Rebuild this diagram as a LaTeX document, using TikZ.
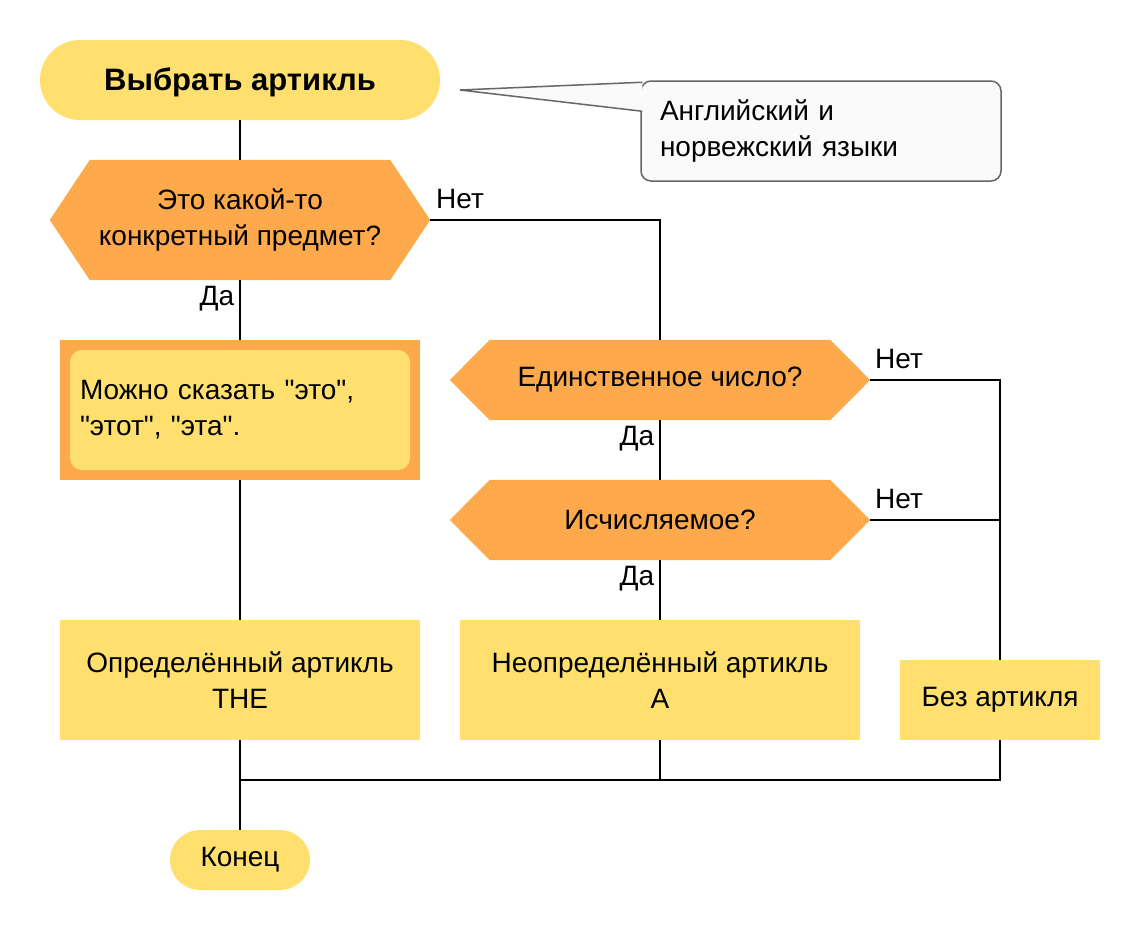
\documentclass[tikz,border=0pt]{standalone}
\usepackage{fontspec}
\setmainfont{Liberation Sans}
\newfontfamily\plainfont{Liberation Sans}
\definecolor{ylw}{HTML}{FFE06E}
\definecolor{org}{HTML}{FFA94D}
\definecolor{callfill}{HTML}{FAFAFA}
\definecolor{callline}{HTML}{666666}
\pgfdeclarelayer{background}
\pgfsetlayers{background,main}
\begin{document}
\begin{tikzpicture}[x=1pt,y=-1pt,
  font=\fontsize{28}{36}\selectfont,
  conn/.style={line width=2pt, black},
  term/.style={fill=ylw, inner sep=0pt, align=center},
  box/.style={fill=ylw, inner sep=0pt, align=center},
  hexn/.style={inner sep=0pt, align=center},
  lbl/.style={inner sep=0pt},
  hexfill/.style={fill=org}]
\useasboundingbox (0,0) rectangle (1140,940);

% nodes
\node[term, minimum width=400pt, minimum height=80pt, rounded corners=40pt, font=\fontsize{31}{36}\selectfont\bfseries] (start) at (240,80) {\raisebox{-2.5pt}[\height][\depth]{Выбрать артикль}};
\node[hexn, minimum width=380pt, minimum height=120pt] (q1) at (240,220) {Это какой-то\\конкретный предмет?};
\node[fill=org, minimum width=360pt, minimum height=140pt, inner sep=0pt] (can) at (240,410) {};
\node[fill=ylw, rounded corners=12pt, minimum width=340pt, minimum height=120pt, text width=320pt, inner xsep=10pt, align=left, font=\fontsize{28}{36}\selectfont\plainfont] (cantext) at (240,410) {Можно сказать "это",\\"этот", "эта".};
\node[hexn, minimum width=420pt, minimum height=80pt] (q2) at (660,380) {Единственное число?};
\node[hexn, minimum width=420pt, minimum height=80pt] (q3) at (660,520) {Исчисляемое?};
\node[box, minimum width=360pt, minimum height=120pt] (def) at (240,680) {Определённый артикль\\THE};
\node[box, minimum width=400pt, minimum height=120pt] (indef) at (660,680) {Неопределённый артикль\\A};
\node[box, minimum width=200pt, minimum height=80pt] (noart) at (1000,700) {Без артикля};
\node[term, minimum width=140pt, minimum height=60pt, rounded corners=30pt] (end) at (240,860) {Конец};

% callout
\node[fill=callfill, draw=callline, line width=1.5pt, rounded corners=10pt, minimum width=360pt, minimum height=100pt, text width=322pt, inner xsep=19pt, align=left] (callout) at (821,131) {Английский и\\норвежский языки};
\coordinate (tip) at (460,90);
\fill[callfill] (tip) -- ([shift={(2,2)}]callout.north west) -- ([shift={(2,31)}]callout.north west) -- cycle;
\draw[callline, line width=1.5pt, line join=miter] ([shift={(2,2)}]callout.north west) -- (tip) -- ([shift={(2,31)}]callout.north west);

% hexagon fills
\begin{pgfonlayer}{background}
\foreach \h in {q1,q2,q3}{
  \fill[hexfill] (\h.west) -- ([xshift=40pt]\h.north west) -- ([xshift=-40pt]\h.north east) -- (\h.east) -- ([xshift=-40pt]\h.south east) -- ([xshift=40pt]\h.south west) -- cycle;
}
\end{pgfonlayer}

% labels
\node[lbl] (n1) at (460,199) {Нет};
\node[lbl] (d1) at (217,299) {Да};
\node[lbl] (n2) at (899,359) {Нет};
\node[lbl] (d2) at (637,439) {Да};
\node[lbl] (n3) at (899,499) {Нет};
\node[lbl] (d3) at (637,579) {Да};

% connectors
\coordinate (bus) at (0,780);
\draw[conn] (start.south) -- (q1.north);
\draw[conn] (q1.south) -- (can.north);
\draw[conn] (q1.east) -| (q2.north);
\draw[conn] (can.south) -- (def.north);
\draw[conn] (q2.south) -- (q3.north);
\draw[conn] (q3.south) -- (indef.north);
\draw[conn] (q2.east) -| (noart.north);
\draw[conn] (q3.east) -- (q3.east -| noart.north);
\draw[conn] (def.south) -- (end.north);
\draw[conn] (indef.south) -- (indef.south |- bus);
\draw[conn] (noart.south) |- (def.south |- bus);
\end{tikzpicture}
\end{document}
